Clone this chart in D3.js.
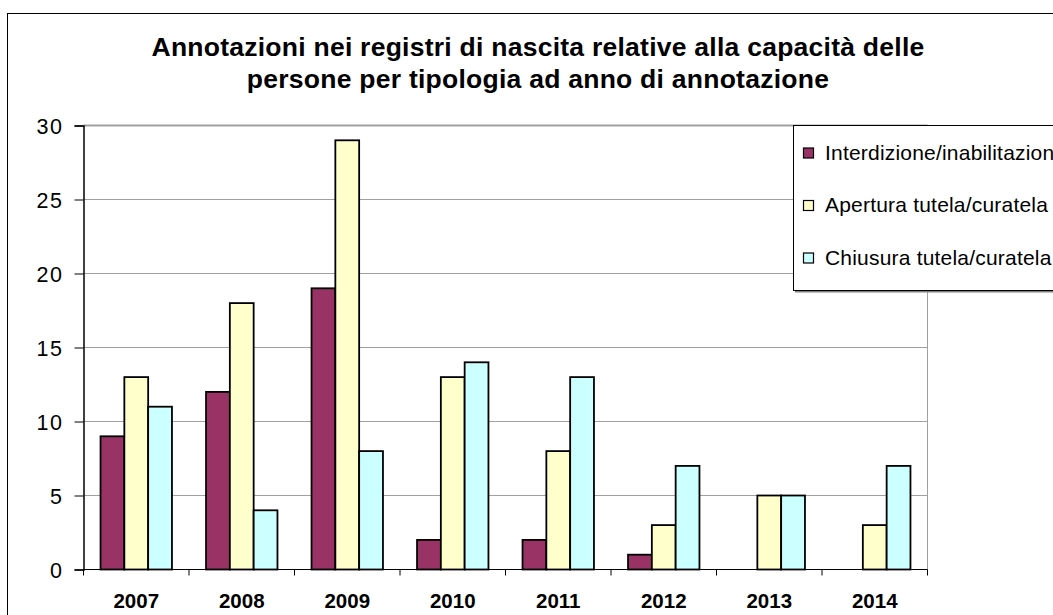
<!DOCTYPE html>
<html>
<head>
<meta charset="utf-8">
<script src="https://cdn.jsdelivr.net/npm/d3@7"></script>
<style>
    body { margin: 0; background: #ffffff; }
    svg { display: block; font-family: "Liberation Sans", Arial, sans-serif; }
</style>
</head>
<body>
<svg id="chart" width="1053" height="615"></svg>
<script>
const years = ["2007", "2008", "2009", "2010", "2011", "2012", "2013", "2014"];
const series_names = [
    "Interdizione/inabilitazione",
    "Apertura tutela/curatela",
    "Chiusura tutela/curatela",
];
const interdizione_values = [9, 12, 19, 2, 2, 1, 0, 0];
const apertura_values = [13, 18, 29, 13, 8, 3, 5, 3];
const chiusura_values = [11, 4, 8, 14, 13, 7, 5, 7];
const y_ticks = [0, 5, 10, 15, 20, 25, 30];
const title_lines = [
    "Annotazioni nei registri di nascita relative alla capacità delle",
    "persone per tipologia ad anno di annotazione",
];

const series_colors = ["#993366", "#FFFFCC", "#CCFFFF"];
const series_values = [interdizione_values, apertura_values, chiusura_values];

const svg = d3.select("#chart");

// plot area
const plot_left = 83.5;
const plot_right = 927.5;
const plot_top = 125.5;
const plot_bottom = 569.5;

const x0 = d3
    .scaleBand()
    .domain(years)
    .range([plot_left, plot_right])
    .paddingInner(0.323)
    .paddingOuter(0.1615);

const x1 = d3
    .scaleBand()
    .domain(series_names)
    .range([0, x0.bandwidth()]);

const y = d3.scaleLinear().domain([0, 30]).range([plot_bottom, plot_top]);

// outer chart frame
svg.append("rect")
    .attr("x", 7.5)
    .attr("y", 13.5)
    .attr("width", 1100)
    .attr("height", 700)
    .attr("fill", "#ffffff")
    .attr("stroke", "#000000")
    .attr("stroke-width", 1);

// title
for (let i = 0; i < title_lines.length; i++) {
    svg.append("text")
        .attr("x", 538)
        .attr("y", 56 + i * 32)
        .attr("text-anchor", "middle")
        .attr("font-size", 26.5)
        .attr("font-weight", "bold")
        .attr("letter-spacing", 0.25)
        .attr("fill", "#000000")
        .text(title_lines[i]);
}

// gridlines
for (let i = 0; i < y_ticks.length; i++) {
    if (y_ticks[i] == 0) continue;
    svg.append("line")
        .attr("x1", plot_left)
        .attr("x2", plot_right)
        .attr("y1", y(y_ticks[i]))
        .attr("y2", y(y_ticks[i]))
        .attr("stroke", "#a0a0a0")
        .attr("stroke-width", i == y_ticks.length - 1 ? 2 : 1);
}

// right border of plot area
svg.append("line")
    .attr("x1", plot_right)
    .attr("x2", plot_right)
    .attr("y1", plot_top)
    .attr("y2", plot_bottom)
    .attr("stroke", "#a0a0a0")
    .attr("stroke-width", 1);

// bars
for (let s = 0; s < series_names.length; s++) {
    for (let i = 0; i < years.length; i++) {
        const value = series_values[s][i];
        if (value == 0) continue;
        svg.append("rect")
            .attr("x", x0(years[i]) + x1(series_names[s]))
            .attr("y", y(value))
            .attr("width", x1.bandwidth())
            .attr("height", y(0) - y(value))
            .attr("fill", series_colors[s])
            .attr("stroke", "#000000")
            .attr("stroke-width", 1.8);
    }
}

// y axis
const y_axis = svg
    .append("g")
    .attr("transform", `translate(${plot_left},0)`)
    .call(d3.axisLeft(y).tickValues(y_ticks).tickSize(9).tickPadding(11));
y_axis.select(".domain").attr("stroke", "#000000").attr("stroke-width", 1.5);
y_axis.selectAll(".tick line").attr("stroke", "#000000");
y_axis
    .selectAll(".tick text")
    .attr("font-size", 21.5)
    .attr("font-family", "Liberation Sans, Arial, sans-serif")
    .attr("letter-spacing", 1.5)
    .attr("fill", "#000000")
    .attr("dy", "0.36em");

// x axis line and category boundary ticks
svg.append("line")
    .attr("x1", plot_left)
    .attr("x2", plot_right)
    .attr("y1", plot_bottom)
    .attr("y2", plot_bottom)
    .attr("stroke", "#000000")
    .attr("stroke-width", 1);

for (let i = 0; i <= years.length; i++) {
    const bx = x0.range()[0] + i * x0.step();
    svg.append("line")
        .attr("x1", bx)
        .attr("x2", bx)
        .attr("y1", plot_bottom)
        .attr("y2", plot_bottom + 6)
        .attr("stroke", "#000000")
        .attr("stroke-width", 1);
}

const x_axis = svg
    .append("g")
    .attr("transform", `translate(0,${plot_bottom})`)
    .call(d3.axisBottom(x0).tickSize(0).tickPadding(0));
x_axis.select(".domain").remove();
x_axis
    .selectAll(".tick text")
    .attr("y", 38.5)
    .attr("dy", 0)
    .attr("font-size", 20.5)
    .attr("font-weight", "bold")
    .attr("font-family", "Liberation Sans, Arial, sans-serif")
    .attr("fill", "#000000");

// legend
const legend = svg.append("g");
legend.append("rect")
    .attr("x", 795)
    .attr("y", 127.5)
    .attr("width", 300)
    .attr("height", 165)
    .attr("fill", "#808080");
legend.append("rect")
    .attr("x", 793.5)
    .attr("y", 125.5)
    .attr("width", 300)
    .attr("height", 165)
    .attr("fill", "#ffffff")
    .attr("stroke", "#000000")
    .attr("stroke-width", 1);

for (let s = 0; s < series_names.length; s++) {
    const cy = 153.5 + s * 52.5;
    legend.append("rect")
        .attr("x", 803.5)
        .attr("y", cy - 5.5)
        .attr("width", 10)
        .attr("height", 10)
        .attr("fill", series_colors[s])
        .attr("stroke", "#000000")
        .attr("stroke-width", 1.2);
    legend.append("text")
        .attr("x", 825)
        .attr("y", cy + 6)
        .attr("font-size", 21)
        .attr("letter-spacing", 0.2)
        .attr("fill", "#000000")
        .text(series_names[s]);
}
</script>
</body>
</html>
